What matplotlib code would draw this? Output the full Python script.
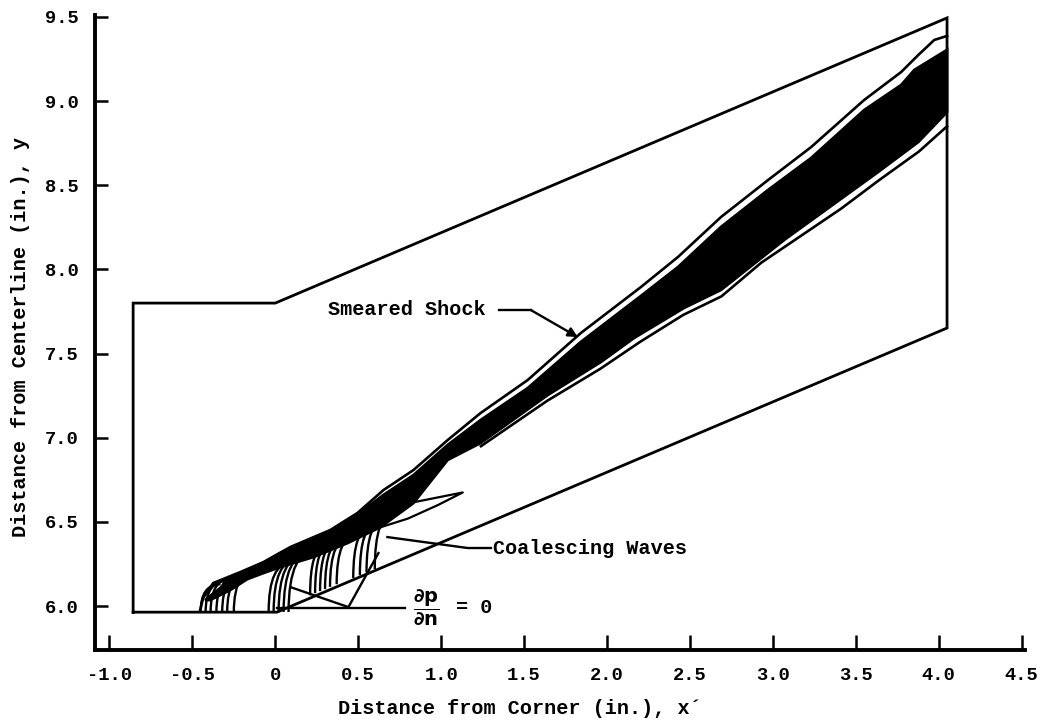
import matplotlib
matplotlib.use("Agg")
import matplotlib.pyplot as plt
from matplotlib.path import Path
from matplotlib.patches import PathPatch, Polygon

plt.rcParams['font.family'] = ['Liberation Mono', 'DejaVu Sans']
plt.rcParams['font.weight'] = 'bold'
plt.rcParams['mathtext.fontset'] = 'dejavusans'

# computational domain outline (in.)
domain_x = [-0.857, -0.857, 0.0, 4.05, 4.05, 0.01, -0.857]
domain_y = [5.964, 7.80, 7.80, 9.494, 7.652, 5.964, 5.964]

# outermost contour above the shock
outer_top_x = [-0.453, -0.435, -0.374, -0.211, -0.072, 0.091, 0.332, 0.495, 0.652, 0.833,
               1.039, 1.238, 1.522, 1.842, 2.204, 2.428, 2.687, 2.971, 3.231, 3.551,
               3.774, 3.877, 3.973, 4.05]
outer_top_y = [5.976, 6.048, 6.137, 6.202, 6.261, 6.351, 6.452, 6.553, 6.689, 6.808,
               6.986, 7.147, 7.343, 7.622, 7.895, 8.074, 8.311, 8.531, 8.727, 9.007,
               9.173, 9.274, 9.363, 9.387]

# dense contour core (upper and lower edge)
core_top_x = [-0.423, -0.272, -0.169, -0.072, 0.030, 0.229, 0.435, 0.652, 0.833, 1.039,
              1.238, 1.522, 1.842, 2.204, 2.428, 2.687, 2.971, 3.231, 3.551, 3.774,
              3.853, 4.05]
core_top_y = [6.036, 6.154, 6.214, 6.256, 6.315, 6.398, 6.499, 6.660, 6.778, 6.957,
              7.105, 7.295, 7.569, 7.842, 8.014, 8.252, 8.472, 8.662, 8.947, 9.096,
              9.185, 9.304]
core_bot_x = [-0.393, -0.272, -0.169, -0.072, 0.030, 0.229, 0.435, 0.634, 0.833, 1.039,
              1.238, 1.643, 1.963, 2.162, 2.464, 2.687, 3.068, 3.635, 3.877, 4.05]
core_bot_y = [6.036, 6.095, 6.160, 6.196, 6.232, 6.291, 6.374, 6.469, 6.612, 6.868,
              6.969, 7.254, 7.450, 7.592, 7.771, 7.878, 8.175, 8.579, 8.757, 8.935]

# outermost contour below the shock
outer_bot_x = [1.24, 1.64, 1.96, 2.20, 2.46, 2.69, 2.93, 3.17, 3.41, 3.64, 3.88, 4.05]
outer_bot_y = [6.95, 7.22, 7.41, 7.57, 7.73, 7.84, 8.04, 8.20, 8.36, 8.53, 8.70, 8.85]

# tongue contour near x = 1
tongue_x = [0.66, 0.85, 1.13, 0.98, 0.80, 0.64]
tongue_y = [6.58, 6.62, 6.675, 6.60, 6.52, 6.47]

# coalescing compression waves: start point (x0, y0) and end in the shock (x1, y1)
wave_x0 = [-0.45, -0.42, -0.39, -0.355, -0.32, -0.29, -0.25,
           -0.04, -0.01, 0.02, 0.05, 0.08,
           0.21, 0.24, 0.27, 0.30, 0.33, 0.37,
           0.47, 0.51, 0.55, 0.60]
wave_y0 = [5.965, 5.965, 5.965, 5.965, 5.965, 5.965, 5.965,
           5.965, 5.965, 5.965, 5.965, 5.965,
           6.064, 6.077, 6.089, 6.101, 6.114, 6.130,
           6.167, 6.183, 6.200, 6.220]
wave_x1 = [-0.33, -0.29, -0.25, -0.21, -0.17, -0.13, -0.08,
           0.10, 0.14, 0.18, 0.22, 0.26,
           0.30, 0.34, 0.38, 0.42, 0.46, 0.50,
           0.58, 0.62, 0.66, 0.72]
wave_y1 = [6.13, 6.15, 6.17, 6.18, 6.20, 6.21, 6.23,
           6.26, 6.28, 6.30, 6.32, 6.34,
           6.35, 6.37, 6.385, 6.40, 6.415, 6.43,
           6.47, 6.49, 6.51, 6.55]

xticks = [-1.0, -0.5, 0.0, 0.5, 1.0, 1.5, 2.0, 2.5, 3.0, 3.5, 4.0, 4.5]
xtick_labels = ['-1.0', '-0.5', '0', '0.5', '1.0', '1.5', '2.0', '2.5', '3.0', '3.5', '4.0', '4.5']
yticks = [6.0, 6.5, 7.0, 7.5, 8.0, 8.5, 9.0, 9.5]
ytick_labels = ['6.0', '6.5', '7.0', '7.5', '8.0', '8.5', '9.0', '9.5']

fig = plt.figure(figsize=(10.53, 7.25), dpi=100)
ax = fig.add_axes([0.0902, 0.1034, 0.8832, 0.8756])

ax.plot(domain_x, domain_y, color='black', lw=2.0, solid_joinstyle='miter')

core = list(zip(core_top_x, core_top_y)) + list(zip(core_bot_x, core_bot_y))[::-1]
ax.add_patch(Polygon(core, closed=True, facecolor='black', edgecolor='black', lw=2.0))
ax.plot(outer_top_x, outer_top_y, color='black', lw=1.9)
ax.plot(outer_bot_x, outer_bot_y, color='black', lw=1.9)
ax.plot(tongue_x, tongue_y, color='black', lw=1.6)

for x0, y0, x1, y1 in zip(wave_x0, wave_y0, wave_x1, wave_y1):
    p = Path([(x0, y0), (x0, y1), (x1, y1)], [Path.MOVETO, Path.CURVE3, Path.CURVE3])
    ax.add_patch(PathPatch(p, fill=False, edgecolor='black', lw=1.7))

# annotations
ax.text(0.32, 7.759, 'Smeared Shock', fontsize=14.5, ha='left', va='center')
ax.plot([1.347, 1.54], [7.759, 7.759], color='black', lw=1.7)
ax.annotate('', xy=(1.824, 7.598), xytext=(1.54, 7.759),
            arrowprops=dict(arrowstyle='-|>', color='black', lw=1.7, mutation_scale=14,
                            shrinkA=0, shrinkB=0))

ax.text(1.31, 6.345, 'Coalescing Waves', fontsize=14.5, ha='left', va='center')
ax.plot([1.30, 1.16, 0.676], [6.345, 6.345, 6.41], color='black', lw=1.7)

ax.plot([0.012, 0.785], [5.988, 5.988], color='black', lw=1.7)
ax.plot([0.091, 0.441, 0.622], [6.113, 5.994, 6.315], color='black', lw=1.7)
ax.text(0.83, 5.99, r'$\dfrac{\partial \mathrm{p}}{\partial \mathrm{n}}$', fontsize=14, ha='left', va='center')
ax.text(1.09, 5.99, '= 0', fontsize=14.5, ha='left', va='center')

ax.set_xlim(-1.087, 4.52)
ax.set_ylim(5.739, 9.51)
ax.set_xticks(xticks)
ax.set_xticklabels(xtick_labels)
ax.set_yticks(yticks)
ax.set_yticklabels(ytick_labels)
ax.tick_params(axis='x', direction='in', length=11, width=1.8, pad=12, labelsize=13.5)
ax.tick_params(axis='y', direction='in', length=9, width=1.8, pad=12, labelsize=13.5)
for s in ['top', 'right']:
    ax.spines[s].set_visible(False)
for s in ['left', 'bottom']:
    ax.spines[s].set_linewidth(2.8)

fig.text(0.494, 0.023, 'Distance from Corner (in.), x\u00b4', fontsize=14.5, ha='center', va='center')
fig.text(0.019, 0.535, 'Distance from Centerline (in.), y', fontsize=14.5, ha='center', va='center',
         rotation=90)

fig.savefig('out.png', dpi=100)
